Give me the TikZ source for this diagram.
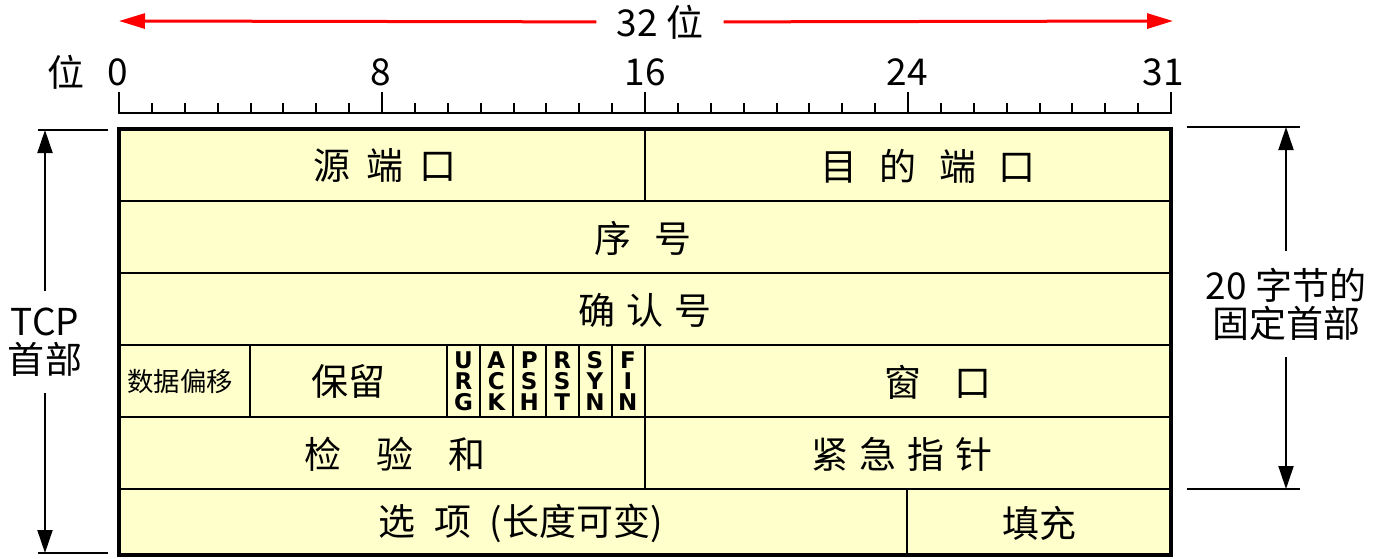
\documentclass[tikz,border=0pt]{standalone}
\usepackage{fontspec}
\setmainfont{Noto Sans CJK SC}
\newfontfamily\flagfont{DejaVu Sans}
\usetikzlibrary{arrows.meta}
\definecolor{fieldyellow}{HTML}{FFFFCC}

\begin{document}
\begin{tikzpicture}[x=0.5pt, y=-0.5pt,
    txt/.style={font=\fontsize{18.5pt}{19pt}\selectfont, inner sep=0pt, align=center},
    smalltxt/.style={font=\fontsize{13.2pt}{14pt}\selectfont, inner sep=0pt},
    flagtxt/.style={font=\flagfont\bfseries\fontsize{11.5pt}{10.6pt}\selectfont, inner sep=0pt, align=center},
    dimarrow/.style={line width=1pt, -{Triangle[length=11.5pt, width=7.5pt]}},
    cell/.style={line width=1pt}]
    \useasboundingbox (0,0) rectangle (1375,558);

    % Width of the header
    \node[txt, inner xsep=10pt] (width) at (660,22) {32 位};
    \coordinate (wleft) at (119,21);
    \coordinate (wright) at (1173,21);
    \draw[red, line width=1.5pt, -{Triangle[length=13pt, width=7.5pt]}] (width) -- (wleft);
    \draw[red, line width=1.5pt, -{Triangle[length=13pt, width=7.5pt]}] (width) -- (wright);

    % Bit ruler
    \node[txt] (bitlabel) at (66,72) {位};
    \node[txt] (bit0) at (118,72) {0};
    \node[txt] (bit8) at (381,72) {8};
    \node[txt] (bit16) at (645,72) {16};
    \node[txt] (bit24) at (907,72) {24};
    \node[txt] (bit31) at (1163,72) {31};
    \draw[line width=1pt] (119,92) -- (119,113) -- (1171,113) -- (1171,92);
    \foreach \i in {1,...,31}
        \draw[line width=1pt] (119+\i*32.875,103) -- (119+\i*32.875,113);
    \foreach \i in {8,16,24}
        \draw[line width=1pt] (119+\i*32.875,92) -- (119+\i*32.875,113);

    % Header fields
    \fill[fieldyellow] (119,129) rectangle (1171,555);
    \foreach \y in {201,273,345,417,489}
        \draw[cell] (119,\y) -- (1171,\y);
    \draw[cell] (645,129) -- (645,201);
    \foreach \x in {250,447,480,513,546,579,612,645}
        \draw[cell] (\x,345) -- (\x,417);
    \draw[cell] (645,417) -- (645,489);
    \draw[cell] (907,489) -- (907,555);
    \draw[line width=2pt] (119,129) rectangle (1171,555);

    \node[txt] (srcport) at (385,166) {源\hspace{0.43em}端\hspace{0.43em}口};
    \node[txt] (dstport) at (928,166) {目\hspace{0.6em}的\hspace{0.6em}端\hspace{0.6em}口};
    \node[txt] (seq) at (643,238) {序\hspace{0.6em}号};
    \node[txt] (ack) at (645,310) {确\hspace{0.3em}认\hspace{0.3em}号};
    \node[smalltxt] (offset) at (180,381) {数据偏移};
    \node[txt] (reserved) at (348,381) {保留};
    \foreach \f [count=\i] in {U\\R\\G, A\\C\\K, P\\S\\H, R\\S\\T, S\\Y\\N, F\\I\\N}
        \node[flagtxt] (flag\i) at (447+\i*32.875-16.4,381) {\f};
    \node[txt] (window) at (938,382) {窗\hspace{0.9em}口};
    \node[txt] (checksum) at (395,454) {检\hspace{0.95em}验\hspace{0.95em}和};
    \node[txt] (urgent) at (902,454) {紧\hspace{0.3em}急\hspace{0.3em}指\hspace{0.3em}针};
    \node[txt] (options) at (521,523) {选\hspace{0.5em}项\hspace{0.5em}(长度可变)};
    \node[txt] (padding) at (1039,523) {填充};

    % TCP header
    \draw[line width=1pt] (38,130) -- (108,130);
    \draw[line width=1pt] (38,553) -- (108,553);
    \coordinate (ltop) at (45,130);
    \coordinate (lbottom) at (45,553);
    \node[txt, inner ysep=8pt] (tcphead) at (45,342) {TCP\\首部};
    \draw[dimarrow] (tcphead) -- (ltop);
    \draw[dimarrow] (tcphead) -- (lbottom);

    % Fixed part
    \draw[line width=1pt] (1187,127) -- (1300,127);
    \draw[line width=1pt] (1187,489) -- (1300,489);
    \coordinate (rtop) at (1286,127);
    \coordinate (rbottom) at (1286,489);
    \node[txt, inner ysep=8pt] (fixedhead) at (1286,304) {20 字节的\\固定首部};
    \draw[dimarrow] (fixedhead) -- (rtop);
    \draw[dimarrow] (fixedhead) -- (rbottom);
\end{tikzpicture}
\end{document}
